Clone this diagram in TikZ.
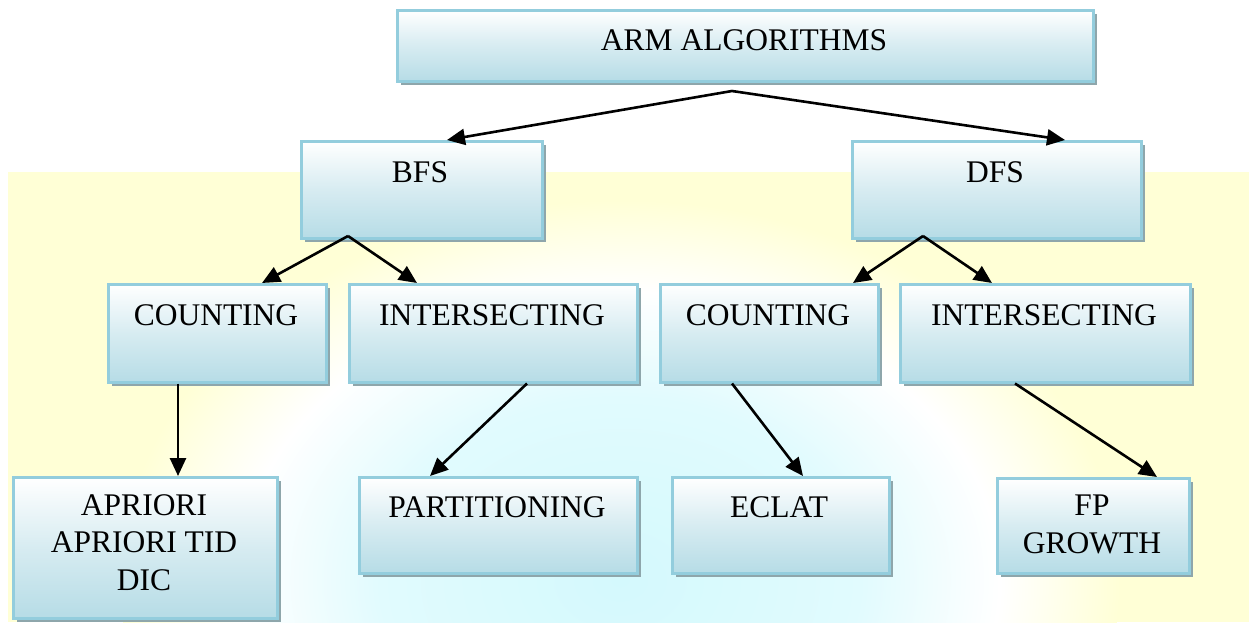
\documentclass[tikz,border=0pt]{standalone}
\usepackage{fontspec}
\setmainfont{Liberation Serif}
\usetikzlibrary{arrows.meta}
\definecolor{bgyellow}{HTML}{FFFFD6}
\definecolor{globecyan}{HTML}{D4F9FD}
\definecolor{boxedge}{HTML}{93CDDD}
\definecolor{boxbottom}{HTML}{B6DCE6}
\definecolor{shadowc}{HTML}{8EA6AB}
\pgfdeclareradialshading{globeshade}{\pgfpoint{0bp}{0bp}}{color(0bp)=(globecyan); color(12bp)=(globecyan!70!white); color(19bp)=(white); color(25bp)=(bgyellow); color(50bp)=(bgyellow)}
\tikzset{
  box/.style={rectangle, anchor=north west, inner sep=0pt, draw=boxedge, line width=2.5pt,
    top color=white, bottom color=boxbottom, middle color=white!45!boxbottom,
    preaction={fill=shadowc, transform canvas={xshift=4pt,yshift=-4pt}}},
  lbl/.style={anchor=north, inner sep=0pt, align=center, font=\fontsize{31.5}{37.5}\selectfont},
  arr/.style={line width=2.6pt, -{Triangle[length=18pt,width=16pt]}}
}
\begin{document}
\begin{tikzpicture}[x=1pt,y=-1pt]
\useasboundingbox (0,0) rectangle (1249,622);
\fill[white] (0,0) rectangle (1249,622);
% background
\begin{scope}
\clip (8,172) rectangle (1249,622);
\fill[bgyellow] (8,172) rectangle (1249,622);
\shade[shading=globeshade] (620,580) ellipse (500 and 380);
\end{scope}
% boxes
\node[box, minimum width=696pt, minimum height=71pt] (arm) at (396,9) {};
\node[box, minimum width=241pt, minimum height=97pt] (bfs) at (300,140) {};
\node[box, minimum width=289pt, minimum height=97pt] (dfs) at (851,140) {};
\node[box, minimum width=218pt, minimum height=98pt] (cntL) at (107,283) {};
\node[box, minimum width=288pt, minimum height=98pt] (intL) at (348,283) {};
\node[box, minimum width=218pt, minimum height=98pt] (cntR) at (659,283) {};
\node[box, minimum width=290pt, minimum height=98pt] (intR) at (899,283) {};
\node[box, minimum width=264pt, minimum height=141pt] (apr) at (12,476) {};
\node[box, minimum width=278pt, minimum height=96pt] (part) at (358,476) {};
\node[box, minimum width=217pt, minimum height=96pt] (eclat) at (671,476) {};
\node[box, minimum width=192pt, minimum height=95pt] (fp) at (996,477) {};
% labels
\node[lbl] (armt) at (744,29) {ARM ALGORITHMS};
\node[lbl] (bfst) at (420,161) {BFS};
\node[lbl] (dfst) at (995,161) {DFS};
\node[lbl] (cntLt) at (216,304) {COUNTING};
\node[lbl] (intLt) at (492,304) {INTERSECTING};
\node[lbl] (cntRt) at (768,304) {COUNTING};
\node[lbl] (intRt) at (1044,304) {INTERSECTING};
\node[lbl] (aprt) at (144,494) {APRIORI\\APRIORI TID\\DIC};
\node[lbl] (partt) at (497,496) {PARTITIONING};
\node[lbl] (eclatt) at (779,496) {ECLAT};
\node[lbl] (fpt) at (1092,495) {FP\\GROWTH};
% apex points
\coordinate (armapex) at (732,91);
\coordinate (bfsapex) at (348,236);
\coordinate (dfsapex) at (923,236);
% connectors
\draw[arr] (armapex) -- ([xshift=147pt]bfs.north west);
\draw[arr] (armapex) -- ([xshift=214pt]dfs.north west);
\draw[arr] (bfsapex) -- ([xshift=155pt]cntL.north west);
\draw[arr] (bfsapex) -- ([xshift=69pt]intL.north west);
\draw[arr] (dfsapex) -- ([xshift=194pt]cntR.north west);
\draw[arr] (dfsapex) -- ([xshift=93pt]intR.north west);
\draw[arr] ([xshift=71pt]cntL.south west) -- ([xshift=166pt]apr.north west);
\draw[arr] ([xshift=179pt]intL.south west) -- ([xshift=72pt]part.north west);
\draw[arr] ([xshift=73pt]cntR.south west) -- ([xshift=132pt]eclat.north west);
\draw[arr] ([xshift=116pt]intR.south west) -- ([xshift=161pt]fp.north west);
\end{tikzpicture}
\end{document}
